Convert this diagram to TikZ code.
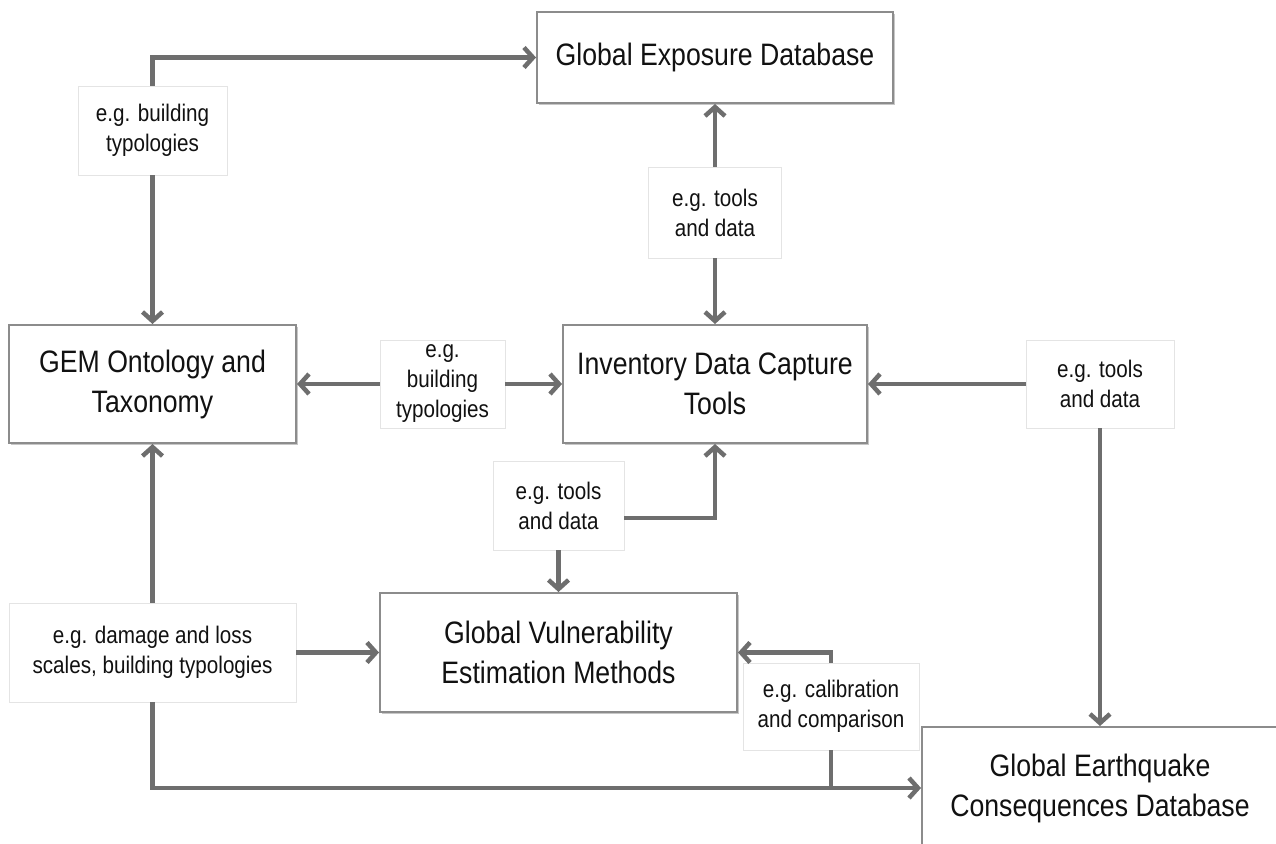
\documentclass[tikz,border=0pt]{standalone}
\usepackage{fontspec}
\setmainfont[FakeStretch=0.86]{Liberation Sans}
\usetikzlibrary{arrows.meta,shadows}
\definecolor{linegray}{HTML}{6E6E6E}
\definecolor{boxgray}{HTML}{8C8C8C}
\definecolor{labgray}{HTML}{E4E4E4}
\definecolor{txt}{HTML}{111111}
\begin{document}
\begin{tikzpicture}[x=1pt,y=-1pt,
  box/.style={draw=boxgray, line width=2pt, fill=white, align=center, inner sep=0pt,
    text=txt, font=\fontsize{31}{40}\selectfont,
    drop shadow={shadow xshift=1.5pt,shadow yshift=-2pt,fill=black,opacity=0.22}},
  lab/.style={draw=labgray, line width=0.8pt, fill=white, align=center, inner sep=0pt,
    text=txt, font=\fontsize{24}{30}\selectfont},
  conn/.style={draw=linegray, line width=4.5pt},
  arr/.style={conn, -{Straight Barb[length=9pt,width=20pt]}}]
\clip (0,0) rectangle (1276,843);
\fill[white] (0,0) rectangle (1276,843);
% main boxes
\node[box, minimum width=356pt, minimum height=91pt] (ged) at (715,57.5) {Global Exposure Database};
\node[box, minimum width=287pt, minimum height=118pt] (gem) at (152.5,384) {GEM Ontology and\\Taxonomy};
\node[box, minimum width=304pt, minimum height=118pt] (idc) at (715,384) {Inventory Data Capture\\Tools};
\node[box, minimum width=357pt, minimum height=119pt] (gve) at (558.5,652.5) {Global Vulnerability\\Estimation Methods};
\node[box, minimum width=356pt, minimum height=122pt] (gecd) at (1100,788) {Global Earthquake\\Consequences Database};
% labels
\node[lab, minimum width=149pt, minimum height=89pt] (lb1) at (152.5,130.5) {e.g. building\\typologies};
\node[lab, minimum width=133pt, minimum height=91pt] (lb2) at (715,212.5) {e.g. tools\\and data};
\node[lab, minimum width=125pt, minimum height=88pt] (lb3) at (442.5,384) {e.g.\\building\\typologies};
\node[lab, minimum width=148pt, minimum height=88pt] (lb4) at (1100,384) {e.g. tools\\and data};
\node[lab, minimum width=131pt, minimum height=89pt] (lb5) at (558.5,505.5) {e.g. tools\\and data};
\node[lab, minimum width=287pt, minimum height=99pt] (lb6) at (152.5,652.5) {e.g. damage and loss\\scales, building typologies};
\node[lab, minimum width=176pt, minimum height=87pt] (lb7) at (831,706.5) {e.g. calibration\\and comparison};
% connectors
\draw[arr] (lb1.north) |- (ged.west);
\draw[arr] (lb1.south) -- (gem.north);
\draw[arr] (lb2.north) -- (ged.south);
\draw[arr] (lb2.south) -- (idc.north);
\draw[arr] (lb3.west) -- (gem.east);
\draw[arr] (lb3.east) -- (idc.west);
\draw[arr] (lb4.west) -- (idc.east);
\draw[arr] (lb4.south) -- (gecd.north);
\draw[arr] ([yshift=-12.5pt]lb5.east) -| (idc.south);
\draw[arr] (lb5.south) -- (gve.north);
\draw[arr] (lb6.north) -- (gem.south);
\draw[arr] (lb6.east) -- (gve.west);
\draw[arr] (lb6.south) |- (gecd.west);
\draw[arr] (lb7.north) |- (gve.east);
\draw[conn] (lb7.south) -- (lb7.south |- gecd.west);
\end{tikzpicture}
\end{document}
